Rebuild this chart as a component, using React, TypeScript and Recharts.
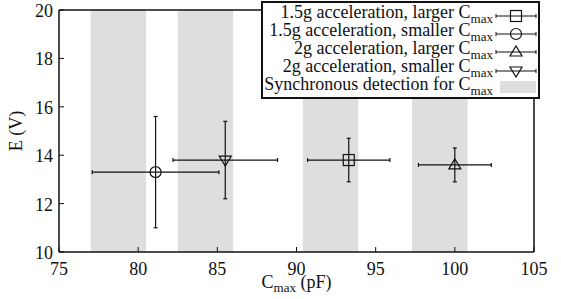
import React from "react"
import { ScatterChart, Scatter, XAxis, YAxis, ErrorBar, ReferenceArea } from "recharts"

const seriesNames = [
  "1.5g acceleration, larger C",
  "1.5g acceleration, smaller C",
  "2g acceleration, larger C",
  "2g acceleration, smaller C",
]
const markerKinds = ["square", "circle", "triangleUp", "triangleDown"]
const cmax = [93.3, 81.1, 100.0, 85.5]
const voltage = [13.8, 13.3, 13.6, 13.8]
const cmaxLow = [90.7, 77.1, 97.7, 82.2]
const cmaxHigh = [95.9, 85.1, 102.3, 88.8]
const voltageLow = [12.9, 11.0, 12.9, 12.2]
const voltageHigh = [14.7, 15.6, 14.3, 15.4]

const bandStart = [77, 82.5, 90.4, 97.3]
const bandEnd = [80.5, 86, 93.9, 100.8]

const xTicks = [75, 80, 85, 90, 95, 100, 105]
const yTicks = [10, 12, 14, 16, 18, 20]

const FONT = "Liberation Serif, Times New Roman, serif"
const BAND = "#dedede"
const INK = "#111"

const seriesData = seriesNames.map((_, i) => [
  {
    x: cmax[i],
    y: voltage[i],
    ex: [cmax[i] - cmaxLow[i], cmaxHigh[i] - cmax[i]],
    ey: [voltage[i] - voltageLow[i], voltageHigh[i] - voltage[i]],
  },
])

function Marker({ cx, cy, kind }: { cx: number, cy: number, kind: string }) {
  const common = { fill: "none", stroke: INK, strokeWidth: 1.2 }
  if (kind === "square") return <rect x={cx - 5.5} y={cy - 5.5} width={11} height={11} {...common} />
  if (kind === "circle") return <circle cx={cx} cy={cy} r={5.5} {...common} />
  if (kind === "triangleUp")
    return <polygon points={`${cx},${cy - 6} ${cx - 6},${cy + 4} ${cx + 6},${cy + 4}`} {...common} />
  return <polygon points={`${cx},${cy + 6} ${cx - 6},${cy - 4} ${cx + 6},${cy - 4}`} {...common} />
}

const BottomTick = (props: any) => {
  const { x, y, payload } = props
  return (
    <g>
      <line x1={x} y1={y} x2={x} y2={y - 5} stroke={INK} />
      <text x={x} y={y + 23} textAnchor="middle" fontSize={18} fontFamily={FONT} fill={INK}>
        {payload.value}
      </text>
    </g>
  )
}
const TopTick = (props: any) => {
  const { x, y } = props
  return <line x1={x} y1={y} x2={x} y2={y + 5} stroke={INK} />
}
const LeftTick = (props: any) => {
  const { x, y, payload } = props
  return (
    <g>
      <line x1={x} y1={y} x2={x + 5} y2={y} stroke={INK} />
      <text x={x - 6} y={y + 7} textAnchor="end" fontSize={18} fontFamily={FONT} fill={INK}>
        {payload.value}
      </text>
    </g>
  )
}
const RightTick = (props: any) => {
  const { x, y } = props
  return <line x1={x} y1={y} x2={x - 5} y2={y} stroke={INK} />
}

function LegendBox() {
  const marks = [16, 34, 52, 71]
  const baselines = [18, 36, 54, 72, 90]
  const textX = 493
  return (
    <svg width={561} height={110} style={{ position: "absolute", left: 0, top: 0, pointerEvents: "none" }}>
      <rect x={262} y={2} width={277} height={96} fill="#fff" stroke={INK} strokeWidth={2} />
      {seriesNames.map((name, i) => (
        <g key={name}>
          <text x={textX} y={baselines[i]} textAnchor="end" fontSize={18} fontFamily={FONT} fill={INK}>
            {name}
            <tspan fontSize={13} dy={4.5}>max</tspan>
          </text>
          <line x1={496} y1={marks[i]} x2={536} y2={marks[i]} stroke={INK} />
          <line x1={496} y1={marks[i] - 2} x2={496} y2={marks[i] + 2} stroke={INK} />
          <line x1={536} y1={marks[i] - 2} x2={536} y2={marks[i] + 2} stroke={INK} />
          <Marker cx={516} cy={marks[i]} kind={markerKinds[i]} />
        </g>
      ))}
      <text x={textX} y={baselines[4]} textAnchor="end" fontSize={18} fontFamily={FONT} fill={INK}>
        Synchronous detection for C
        <tspan fontSize={13} dy={4.5}>max</tspan>
      </text>
      <rect x={500} y={81} width={36} height={12} fill={BAND} />
    </svg>
  )
}

export default function App() {
  return (
    <div style={{ position: "absolute", left: 0, top: 0, width: 561, height: 299, background: "#fff" }}>
      <ScatterChart width={561} height={299} margin={{ top: 0, right: 0, bottom: 0, left: 0 }}>
        {bandStart.map((s, i) => (
          <ReferenceArea key={i} x1={s} x2={bandEnd[i]} y1={10} y2={20} fill={BAND} fillOpacity={1} stroke="none" />
        ))}
        <XAxis
          type="number"
          dataKey="x"
          domain={[75, 105]}
          ticks={xTicks}
          height={47}
          tickSize={0}
          tickMargin={0}
          tick={<BottomTick />}
          axisLine={{ stroke: INK, strokeWidth: 1.5 }}
          tickLine={false}
          allowDataOverflow
          label={({ viewBox }: any) => (
            <text x={viewBox.x + viewBox.width / 2} y={288} textAnchor="middle" fontSize={18} fontFamily={FONT} fill={INK}>
              C<tspan fontSize={13} dy={4}>max</tspan>
              <tspan dy={-4}> (pF)</tspan>
            </text>
          )}
        />
        <XAxis
          xAxisId="top"
          orientation="top"
          type="number"
          domain={[75, 105]}
          ticks={xTicks}
          height={10}
          tickSize={0}
          tickMargin={0}
          tick={<TopTick />}
          axisLine={{ stroke: INK, strokeWidth: 1.5 }}
          tickLine={false}
        />
        <YAxis
          type="number"
          dataKey="y"
          domain={[10, 20]}
          ticks={yTicks}
          width={59}
          tickSize={0}
          tickMargin={0}
          tick={<LeftTick />}
          axisLine={{ stroke: INK, strokeWidth: 1.5 }}
          tickLine={false}
          allowDataOverflow
          label={({ viewBox }: any) => {
            const cx = 22
            const cy = viewBox.y + viewBox.height / 2
            return (
              <text x={cx} y={cy} transform={`rotate(-90 ${cx} ${cy})`} textAnchor="middle" fontSize={18} fontFamily={FONT} fill={INK}>
                E (V)
              </text>
            )
          }}
        />
        <YAxis
          yAxisId="right"
          orientation="right"
          type="number"
          domain={[10, 20]}
          ticks={yTicks}
          width={27}
          tickSize={0}
          tickMargin={0}
          tick={<RightTick />}
          axisLine={{ stroke: INK, strokeWidth: 1.5 }}
          tickLine={false}
        />
        {seriesData.map((d, i) => (
          <Scatter
            key={seriesNames[i]}
            name={seriesNames[i]}
            data={d}
            isAnimationActive={false}
            shape={(p: any) => <Marker cx={p.cx} cy={p.cy} kind={markerKinds[i]} />}
          >
            <ErrorBar dataKey="ex" direction="x" width={2} stroke={INK} strokeWidth={1.2} />
            <ErrorBar dataKey="ey" direction="y" width={2} stroke={INK} strokeWidth={1.2} />
          </Scatter>
        ))}
      </ScatterChart>
      <LegendBox />
    </div>
  )
}
